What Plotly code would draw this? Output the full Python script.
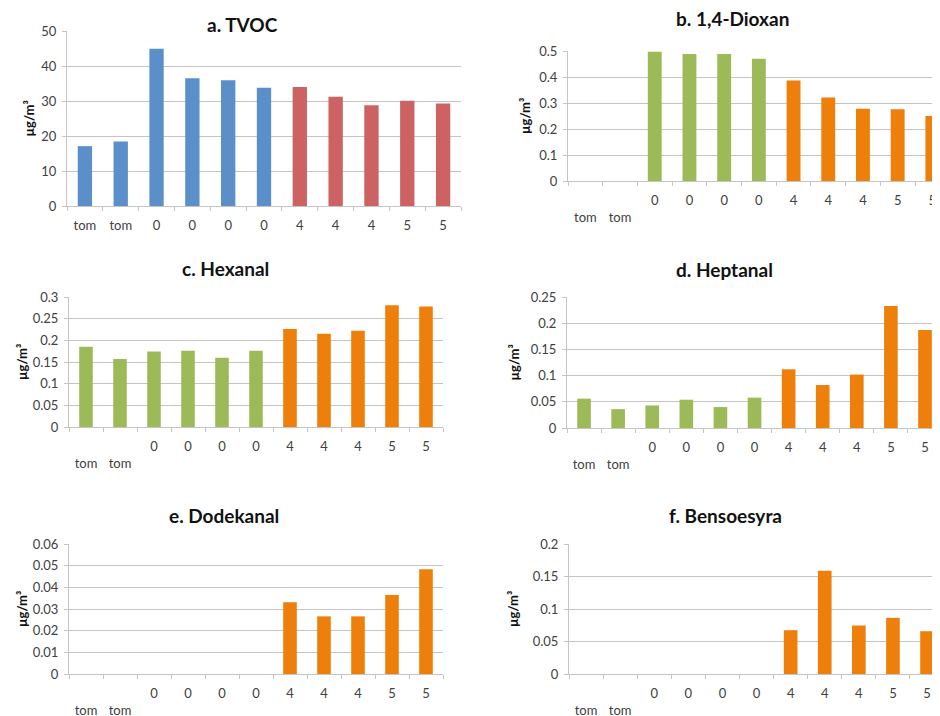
import plotly.graph_objects as go

# page body has an 8px margin: build the figure in viewport pixels minus that offset
OFF = 8
W, H = 940 - OFF, 716 - OFF

# ---- data ----
categories = ["tom", "tom", "0", "0", "0", "0", "4", "4", "4", "5", "5"]
group = ["ref", "ref", "ref", "ref", "ref", "ref", "new", "new", "new", "new", "new"]

tvoc = [17.1, 18.4, 44.9, 36.5, 35.9, 33.8, 34.0, 31.2, 28.8, 30.1, 29.3]
dioxan = [None, None, 0.497, 0.488, 0.488, 0.470, 0.387, 0.321, 0.278, 0.276, 0.250]
hexanal = [0.185, 0.157, 0.174, 0.176, 0.160, 0.176, 0.226, 0.215, 0.222, 0.281, 0.278]
heptanal = [0.056, 0.036, 0.043, 0.054, 0.040, 0.058, 0.112, 0.082, 0.102, 0.233, 0.187]
dodekanal = [None, None, None, None, None, None, 0.0331, 0.0266, 0.0266, 0.0365, 0.0483]
bensoesyra = [None, None, None, None, None, None, 0.0674, 0.159, 0.0746, 0.0864, 0.0658]

titles = ["a. TVOC", "b. 1,4-Dioxan", "c. Hexanal", "d. Heptanal", "e. Dodekanal", "f. Bensoesyra"]
y_max = [50, 0.5, 0.3, 0.25, 0.06, 0.2]
y_step = [10, 0.1, 0.05, 0.05, 0.01, 0.05]
unit = "µg/m³"

# ---- styling / layout ----
FONT = "Lato, Open Sans, sans-serif"
palettes = [
    {"ref": "#5B8FC9", "new": "#CC6262"},
    {"ref": "#9CBB58", "new": "#EE7F0A"},
    {"ref": "#9CBB58", "new": "#EE7F0A"},
    {"ref": "#9CBB58", "new": "#EE7F0A"},
    {"ref": "#9CBB58", "new": "#EE7F0A"},
    {"ref": "#9CBB58", "new": "#EE7F0A"},
]
# viewport pixel boxes: (x0, x1, ytop, ybot, xmax_range)
boxes = [
    (67, 461, 31, 206, 10.5),
    (568, 940, 51, 181, 10.22),
    (69, 443, 297, 427, 10.5),
    (567, 940, 297, 428, 10.44),
    (69, 443, 544, 674, 10.5),
    (569, 940, 544, 674, 10.38),
]
title_pos = [(242, 25), (732, 18), (225, 268), (724, 269), (224, 515), (725, 515)]
ytitle_x = [28, 525, 22, 513, 22, 513]


def px_x(x):
    return min(max((x - OFF) / W, 0), 1)


def px_y(y):
    return min(max(1 - (y - OFF) / H, 0), 1)


series = [tvoc, dioxan, hexanal, heptanal, dodekanal, bensoesyra]

fig = go.Figure()
annotations = []
grid = "#C4C4C4"
tick_font = dict(family=FONT, size=13, color="#404040")

for i, (vals, box) in enumerate(zip(series, boxes)):
    x0, x1, yt, yb, xmax = box
    n = "" if i == 0 else str(i + 1)
    colors = [palettes[i][g] for g in group]
    fig.add_trace(go.Bar(
        x=list(range(len(categories))), y=vals,
        marker=dict(color=colors, line=dict(width=0)),
        xaxis="x" + n, yaxis="y" + n, showlegend=False,
    ))
    if i == 0:
        ticktext = categories
    else:
        ticktext = ["<br>" + c if c == "tom" else c for c in categories]
    xa = dict(
        domain=[px_x(x0), px_x(x1)],
        anchor="y" + n,
        range=[-0.5, xmax],
        tickmode="array",
        tickvals=list(range(len(categories))),
        ticktext=ticktext,
        ticks="",
        ticklabelstandoff=7,
        showgrid=False,
        showline=True, linecolor=grid, linewidth=1,
        tickfont=tick_font,
        minor=dict(tickmode="array", tickvals=[k - 0.5 for k in range(len(categories) + 1)],
                   ticks="outside", ticklen=4, tickcolor=grid, showgrid=False),
        zeroline=False,
        automargin=False,
        fixedrange=True,
    )
    ya = dict(
        domain=[px_y(yb), px_y(yt)],
        anchor="x" + n,
        range=[0, y_max[i]],
        dtick=y_step[i], tick0=0,
        showgrid=True, gridcolor=grid, gridwidth=1,
        showline=True, linecolor=grid, linewidth=1,
        ticks="outside", ticklen=4, tickcolor=grid,
        ticklabelstandoff=3,
        tickfont=tick_font,
        zeroline=False,
        automargin=False,
        fixedrange=True,
    )
    fig.update_layout({"xaxis" + n: xa, "yaxis" + n: ya})

    tx, ty = title_pos[i]
    annotations.append(dict(
        text="<b>" + titles[i] + "</b>", x=px_x(tx), y=px_y(ty),
        xref="paper", yref="paper", xanchor="center", yanchor="middle",
        showarrow=False, font=dict(family=FONT, size=19, color="#111111"),
    ))
    annotations.append(dict(
        text="<b>" + unit + "</b>", x=px_x(ytitle_x[i]), y=px_y((yt + yb) / 2),
        xref="paper", yref="paper", xanchor="center", yanchor="middle",
        textangle=-90, showarrow=False, font=dict(family=FONT, size=13, color="#111111"),
    ))

fig.update_layout(
    width=W, height=H,
    margin=dict(l=0, r=0, t=0, b=0, autoexpand=False),
    paper_bgcolor="white", plot_bgcolor="white",
    bargap=0.6,
    annotations=annotations,
    font=dict(family=FONT),
)

fig.write_html("out.html")
